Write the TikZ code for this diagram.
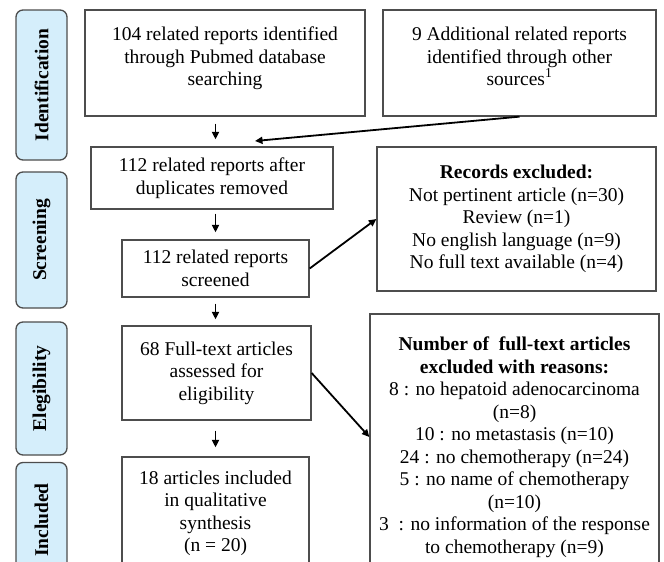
\documentclass[tikz,border=0pt]{standalone}
\usepackage{fontspec}
\setmainfont{Liberation Serif}
\usetikzlibrary{arrows.meta}
\definecolor{phaseblue}{HTML}{D5EEFB}
\definecolor{edgegray}{HTML}{4D4D4D}
\tikzset{
    box/.style={draw=edgegray, line width=1.3pt, align=center, inner sep=2pt},
    phase/.style={draw=edgegray, line width=1.3pt, fill=phaseblue, rounded corners=7pt,
        rotate=90, font=\fontsize{19.5}{23}\selectfont\bfseries, minimum height=51pt},
    flow/.style={-{Triangle[length=7.5pt,width=7pt]}, line width=1.8pt},
}
\begin{document}
\begin{tikzpicture}[x=1pt, y=-1pt, font=\fontsize{19.5}{22.5}\selectfont]
    \clip (0,0) rectangle (664,562);
    % phase labels on the left
    \node[phase, minimum width=150pt] (ident) at (41.5,85) {Identification};
    \node[phase, minimum width=136pt] (scr) at (41.5,240) {Screening};
    \node[phase, minimum width=133pt] (elig) at (41.5,388.5) {Elegibility};
    \node[phase, minimum width=115pt] (inc) at (41.5,520) {Included};

    % flow boxes
    \node[box, minimum width=280pt, minimum height=106pt] (pubmed) at (225,63)
        {104 related reports identified\\ through Pubmed database\\ searching\\[-9pt]\mbox{}};
    \node[box, minimum width=273pt, minimum height=106pt] (other) at (519.5,63)
        {9 Additional related reports\\ identified through other\\ sources\textsuperscript{1}\\[-9pt]\mbox{}};
    \node[box, minimum width=242pt, minimum height=62pt] (dup) at (212,178)
        {112 related reports after\\ duplicates removed};
    \node[box, minimum width=279pt, minimum height=144pt] (excl) at (516.5,219)
        {\textbf{Records excluded:}\\ Not pertinent article (n=30)\\ Review (n=1)\\
         No english language (n=9)\\ No full text available (n=4)};
    \node[box, minimum width=187pt, minimum height=57pt] (screen) at (215.5,268.5)
        {112 related reports\\ screened};
    \node[box, minimum width=189pt, minimum height=94pt] (full) at (216.5,373)
        {68 Full-text articles\\ assessed for\\ eligibility};
    \node[box, minimum width=289pt, minimum height=266pt] (reasons) at (514.5,447)
        {\textbf{Number of\ \ full-text articles}\\ \textbf{excluded with reasons:}\\
         8 : no hepatoid adenocarcinoma\\ (n=8)\\ 10 : no metastasis (n=10)\\
         24 : no chemotherapy (n=24)\\ 5 : no name of chemotherapy\\ (n=10)\\
         3\ \ : no information of the response\\ to chemotherapy (n=9)};
    \node[box, minimum width=187pt, minimum height=113pt] (incl) at (215.5,513.5)
        {18 articles included\\ in qualitative\\ synthesis\\ (n = 20)};

    % connectors
    \coordinate (dupin) at (255,141);
    \draw[flow, shorten <=7pt, shorten >=7pt] (pubmed.south -| screen) -- (dup.north -| screen);
    \draw[flow] (other.south) -- (dupin);
    \draw[flow, shorten <=4pt, shorten >=7pt] (dup.south -| screen) -- (screen.north);
    \draw[flow] (screen.east) -- (excl.west);
    \draw[flow, shorten <=6pt, shorten >=6pt] (screen.south) -- (full.north -| screen);
    \draw[flow] (full.east) -- ([yshift=10pt]reasons.west);
    \draw[flow, shorten <=10pt, shorten >=9pt] (full.south -| screen) -- (incl.north -| screen);
\end{tikzpicture}
\end{document}
